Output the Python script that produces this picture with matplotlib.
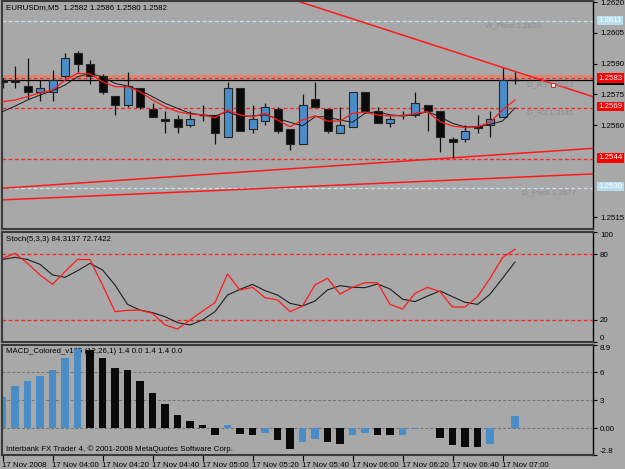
import matplotlib
matplotlib.use('Agg')
from matplotlib import pyplot as plt
from matplotlib.patches import Rectangle

# EURUSDm, M5 - 17 Nov 2008, bars from 03:40 to 07:05 (one bar = 5 min)
opens = [1.2582, 1.2582, 1.2579, 1.2576, 1.2576, 1.2584, 1.2595, 1.2590, 1.2584, 1.2574,
         1.2570, 1.2578, 1.2568, 1.2563, 1.2563, 1.2560, 1.2565, 1.2565, 1.2554, 1.2578,
         1.2558, 1.2562, 1.2568, 1.2558, 1.2551, 1.2573, 1.2568, 1.2556, 1.2559, 1.2576,
         1.2567, 1.2561, 1.2565, 1.2565, 1.2570, 1.2567, 1.2553, 1.2553, 1.25595, 1.2560,
         1.2564, 1.2582]
highs = [1.2583, 1.2589, 1.2593, 1.2582, 1.2587, 1.2595, 1.2596, 1.2592, 1.2585, 1.2574,
         1.2586, 1.2578, 1.2571, 1.2567, 1.2565, 1.2567, 1.2570, 1.2565, 1.2581, 1.2578,
         1.2570, 1.2571, 1.2569, 1.2558, 1.2575, 1.2581, 1.2568, 1.2569, 1.2576, 1.2576,
         1.2569, 1.2565, 1.2567, 1.2576, 1.2570, 1.2567, 1.2554, 1.2560, 1.2565, 1.2567,
         1.2588, 1.2586]
lows = [1.2578, 1.2578, 1.2573, 1.2572, 1.2572, 1.2583, 1.2586, 1.2580, 1.2575, 1.2565,
        1.2569, 1.2568, 1.2564, 1.2556, 1.2556, 1.2559, 1.2562, 1.2551, 1.2554, 1.2557,
        1.2556, 1.2560, 1.2556, 1.2548, 1.2551, 1.2569, 1.2556, 1.2556, 1.2559, 1.2566,
        1.2561, 1.2559, 1.2563, 1.2564, 1.2557, 1.2547, 1.2544, 1.2552, 1.2556, 1.2554,
        1.2564, 1.2580]
closes = [1.2581, 1.2581, 1.2576, 1.2578, 1.2582, 1.2593, 1.2590, 1.2584, 1.2576, 1.2570,
          1.2579, 1.2569, 1.2564, 1.2562, 1.2559, 1.2563, 1.2565, 1.2556, 1.2578, 1.2557,
          1.2563, 1.2569, 1.2557, 1.2551, 1.2570, 1.2569, 1.2557, 1.2560, 1.2576, 1.2567,
          1.2561, 1.2563, 1.2565, 1.2571, 1.2567, 1.2554, 1.2552, 1.2557, 1.25585, 1.2563,
          1.2582, 1.2582]

# moving averages
ma_fast = [1.25714, 1.25723, 1.25739, 1.25758, 1.25771, 1.25820, 1.25853, 1.25850, 1.25812, 1.25788,
           1.25788, 1.25763, 1.25723, 1.25690, 1.25666, 1.25654, 1.25650, 1.25636, 1.25674, 1.25650,
           1.25641, 1.25658, 1.25625, 1.25592, 1.25625, 1.25646, 1.25620, 1.25620, 1.25658, 1.25663,
           1.25650, 1.25645, 1.25646, 1.25658, 1.25666, 1.25617, 1.25596, 1.25588, 1.25592, 1.25614,
           1.25674, 1.25723]
ma_slow = [1.25666, 1.25693, 1.25723, 1.25747, 1.25768, 1.25796, 1.25836, 1.25853, 1.25836, 1.25804,
           1.25791, 1.25771, 1.25739, 1.25707, 1.25682, 1.25658, 1.25650, 1.25645, 1.25666, 1.25641,
           1.25645, 1.25650, 1.25633, 1.25614, 1.25597, 1.25641, 1.25641, 1.25625, 1.25614, 1.25658,
           1.25666, 1.25650, 1.25646, 1.25650, 1.25666, 1.25641, 1.25609, 1.25592, 1.25592, 1.25604,
           1.25620, 1.25684]

# Stoch(5,3,3)
stoch_main = [76, 80.6, 71.5, 61, 52.4, 64, 75, 75, 51.8, 27.6,
              28.8, 29, 26, 15.5, 11.8, 20, 28, 35.8, 61.8, 47.3,
              49.7, 40.3, 38.2, 27.6, 32.7, 52, 57.9, 43.6, 49.7, 53.9,
              53.9, 34.2, 30, 44.2, 49.7, 45.8, 31.8, 31.8, 41.2, 57.9,
              76.7, 84.3137]
stoch_signal = [75, 77, 75, 70.6, 61, 58.8, 64.8, 71.5, 65.5, 51.8,
                34.2, 29, 26.7, 23, 17.6, 15.5, 20, 27.6, 42.7, 47.9,
                52.4, 46.7, 42.7, 35.2, 32.7, 37.3, 47.3, 51.2, 49.7, 49.4,
                52.7, 48.2, 39, 36.7, 41.8, 46.4, 41.2, 36.1, 34.2, 43.4,
                57.9, 72.7422]

# MACD_Colored histogram
macd = [3.37, 4.5, 5.05, 5.58, 6.28, 7.5, 8.5, 8.4, 7.5, 6.4,
        6.2, 5.05, 3.8, 2.6, 1.44, 0.74, 0.39, -0.74, 0.32, -0.56,
        -0.74, -0.46, -1.19, -2.25, -1.5, -1.09, -1.5, -1.72, -0.67, -0.46,
        -0.74, -0.76, -0.67, -0.1, 0.0, -0.98, -1.79, -1.96, -2.0, -1.72,
        0.05, 1.37]

time_labels = ['17 Nov 2008', '17 Nov 04:00', '17 Nov 04:20', '17 Nov 04:40', '17 Nov 05:00',
               '17 Nov 05:20', '17 Nov 05:40', '17 Nov 06:00', '17 Nov 06:20', '17 Nov 06:40',
               '17 Nov 07:00']
time_bars = [0, 4, 8, 12, 16, 20, 24, 28, 32, 36, 40]

# chart objects (levels and trendlines)
red_levels = [1.2583, 1.25685, 1.25433]
blue_levels = [1.2611, 1.25293]
salmon_level = 1.25838
bid = 1.2582
trend_down = ([23.8, 47.24], [1.26202, 1.25739])
trend_up1 = ([-0.04, 47.24], [1.25292, 1.25487])
trend_up2 = ([-0.04, 47.24], [1.25235, 1.25362])
pivot_texts = [(38.6, 1.26084, 'W_Pivot 1.2820'), (41.96, 1.25796, 'D_R3 1.4033'),
               (41.96, 1.25660, 'D_R2 1.3145'), (41.6, 1.25269, 'D_Pivot 1.2677')]
price_ticks = [1.2515, 1.2560, 1.2575, 1.2590, 1.2605, 1.2620]

BG = '#a8a8a8'
BLUE = '#4a8cc8'
FRAME = '#3a3a3a'
XLIM = (-0.04, 47.24)
FS = 5.7

plt.rcParams['font.family'] = ['Liberation Sans', 'DejaVu Sans']
plt.rcParams['font.size'] = FS

fig = plt.figure(figsize=(6.25, 4.69), dpi=100, facecolor=BG)
ax = fig.add_axes([0.0032, 0.5117, 0.9456, 0.4861], facecolor=BG)
ax2 = fig.add_axes([0.0032, 0.2708, 0.9456, 0.2345], facecolor=BG)
ax3 = fig.add_axes([0.0032, 0.0299, 0.9456, 0.2345], facecolor=BG)

for a in (ax, ax2, ax3):
	a.set_xlim(*XLIM)
	for s in ('left', 'top', 'bottom'):
		a.spines[s].set_color(FRAME)
		a.spines[s].set_linewidth(1.5)
	a.spines['right'].set_color('black')
	a.spines['right'].set_linewidth(1)
	a.yaxis.tick_right()
	a.tick_params(axis='y', direction='out', length=3, width=0.8, pad=2, labelsize=FS)

# ---------------- main chart ----------------
ax.set_ylim(1.25093, 1.26206)
for lv in red_levels:
	ax.axhline(lv, color='#ff2020', lw=0.9, ls=(0, (3, 2)), zorder=1)
for lv in blue_levels:
	ax.axhline(lv, color='#c8e6f0', lw=0.9, ls=(0, (3, 2)), zorder=1)
ax.axhline(salmon_level, color='#e4826a', lw=2, zorder=1)
ax.axhline(bid, color='black', lw=0.9, zorder=1)
for xs, ys in (trend_down, trend_up1, trend_up2):
	ax.plot(xs, ys, color='#ff1a1a', lw=1.1, zorder=1)

for i in range(len(opens)):
	o, h, l, c = opens[i], highs[i], lows[i], closes[i]
	ax.vlines(i, l, h, color='#111111', lw=0.9, zorder=2)
	if o == c:
		ax.hlines(o, i - 0.32, i + 0.32, color='#111111', lw=1, zorder=3)
	else:
		col = BLUE if c > o else '#0a0a0a'
		ax.add_patch(Rectangle((i - 0.32, min(o, c)), 0.64, abs(c - o),
		                       fc=col, ec='#262626', lw=0.8, zorder=3))

bars = list(range(len(opens)))
ax.plot(bars, ma_slow, color='#1a1a1a', lw=0.7, zorder=4)
ax.plot(bars, ma_fast, color='#ff1a1a', lw=0.9, zorder=4)

for x, y, t in pivot_texts:
	ax.text(x, y, t, color='#8c8c8c', fontsize=FS, va='center', ha='left', zorder=1)
ax.plot([44.0], [1.25796], marker='s', ms=3, mfc='white', mec='#ff1a1a', mew=0.8, zorder=5)

ax.set_yticks(price_ticks)
ax.set_yticklabels(['%.4f' % p for p in price_ticks])
ax.set_xticks([])

# price boxes on the right scale
tr = ax.get_yaxis_transform()
def price_box(p, fc):
	ax.text(1.009, p, '%.4f' % p, transform=tr, color='white', fontsize=FS, va='center',
	        ha='left', clip_on=False, zorder=6,
	        bbox=dict(boxstyle='square,pad=0.15', fc=fc, ec='none'))

price_box(bid, 'black')
for lv in (1.2583, 1.2569, 1.2544):
	price_box(lv, '#ff0000')
for lv in (1.2611, 1.2530):
	price_box(lv, '#b9dfee')

ax.text(0.006, 0.972, 'EURUSDm,M5  1.2582 1.2586 1.2580 1.2582', transform=ax.transAxes,
        va='center', ha='left', color='black', fontsize=FS)

# ---------------- stochastic ----------------
ax2.set_ylim(0, 100)
ax2.axhline(80, color='#ff2020', lw=0.9, ls=(0, (3, 2)))
ax2.axhline(20, color='#ff2020', lw=0.9, ls=(0, (3, 2)))
ax2.plot(bars, stoch_signal, color='#1f1f1f', lw=0.8)
ax2.plot(bars, stoch_main, color='#ff1a1a', lw=0.9)
ax2.set_yticks([0, 20, 80, 100])
ax2.set_yticklabels(['0', '20', '80', '100'])
lbl = ax2.get_yticklabels()
lbl[0].set_va('bottom')
lbl[-1].set_va('top')
ax2.set_xticks([])
ax2.text(0.006, 0.93, 'Stoch(5,3,3) 84.3137 72.7422', transform=ax2.transAxes,
         va='center', ha='left', color='black', fontsize=FS)

# ---------------- MACD ----------------
ax3.set_ylim(-2.84, 8.9)
for lv in (0, 3, 6):
	ax3.axhline(lv, color='#707070', lw=0.7, ls=(0, (3, 2)), zorder=1)
cols = []
for i, v in enumerate(macd):
	cols.append(BLUE if i == 0 or v >= macd[i - 1] else '#0a0a0a')
ax3.text(0.006, 0.945, 'MACD_Colored_v105 (12,26,1) 1.4 0.0 1.4 1.4 0.0', transform=ax3.transAxes,
         va='center', ha='left', color='black', fontsize=FS, zorder=1)
ax3.bar(bars, macd, width=0.58, color=cols, zorder=2)
ax3.set_yticks([-2.8, 0, 3, 6, 8.9])
ax3.set_yticklabels(['-2.8', '0.00', '3', '6', '8.9'])
lbl = ax3.get_yticklabels()
lbl[0].set_va('bottom')
lbl[-1].set_va('top')
ax3.set_xticks(time_bars)
ax3.set_xticklabels(time_labels, ha='left')
ax3.tick_params(axis='x', direction='out', length=4, width=0.8, pad=1, labelsize=FS)
ax3.text(0.006, 0.05, 'Interbank FX Trader 4, \u00a9 2001-2008 MetaQuotes Software Corp.',
         transform=ax3.transAxes, va='center', ha='left', color='black', fontsize=FS, zorder=3)

fig.savefig('out.png', dpi=100, facecolor=BG)
